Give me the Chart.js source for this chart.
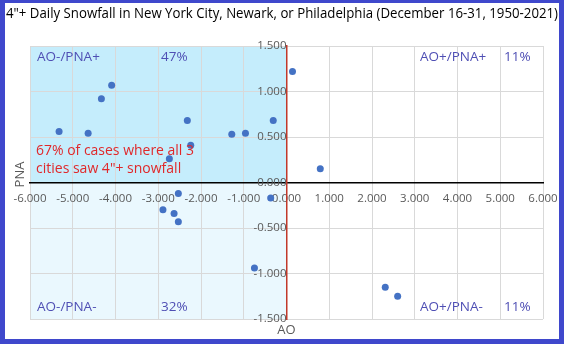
<!DOCTYPE html>
<html>
<head>
<meta charset="utf-8">
<script src="https://cdn.jsdelivr.net/npm/chart.js@4"></script>
<style>
  html, body { margin: 0; padding: 0; background: #fff; }
  #frame { width: 564px; height: 344px; box-sizing: border-box; border: 5px solid #3f48cc; border-top-width: 3px; background: #fff; }
  #chart { display: block; }
</style>
</head>
<body>
<div id="frame"><canvas id="chart" width="554" height="336"></canvas></div>
<script>
// AO / PNA index for each snow event
const aoValues  = [-5.32, -4.64, -4.33, -4.09, -2.74, -2.32, -2.24, -1.28, -0.96, -0.31, 0.14, 0.79,
                   -2.53, -2.89, -2.63, -2.53, -0.37, -0.75, 2.31, 2.60];
const pnaValues = [0.56, 0.54, 0.92, 1.07, 0.26, 0.68, 0.41, 0.53, 0.54, 0.68, 1.22, 0.15,
                   -0.12, -0.30, -0.34, -0.43, -0.17, -0.94, -1.15, -1.25];
const xTicks = [-6, -5, -4, -3, -2, -1, 0, 1, 2, 3, 4, 5, 6];
const yTicks = [-1.5, -1.0, -0.5, 0, 0.5, 1.0, 1.5];
const quadrantLabels = [
  { text: 'AO-/PNA+', pct: '47%', q: 'tl' },
  { text: 'AO+/PNA+', pct: '11%', q: 'tr' },
  { text: 'AO-/PNA-', pct: '32%', q: 'bl' },
  { text: 'AO+/PNA-', pct: '11%', q: 'br' }
];
const noteLines = ['67% of cases where all 3', 'cities saw 4"+ snowfall'];
const titleText = '4"+ Daily Snowfall in New York City, Newark, or Philadelphia (December 16-31, 1950-2021)';

const FONT = '"Open Sans", sans-serif';

const points = aoValues.map((v, i) => ({ x: v, y: pnaValues[i] }));

const decor = {
  id: 'decor',
  beforeDraw(chart) {
    const { ctx, chartArea: a, scales: { x, y } } = chart;
    const x0 = x.getPixelForValue(0), y0 = y.getPixelForValue(0);
    ctx.save();
    ctx.fillStyle = '#c5edfc';
    ctx.fillRect(a.left, a.top, x0 - a.left, y0 - a.top);
    ctx.fillStyle = '#eaf8fe';
    ctx.fillRect(a.left, y0, x0 - a.left, a.bottom - y0);
    ctx.restore();
  },
  afterDraw(chart) {
    const { ctx, chartArea: a, scales: { x, y } } = chart;
    ctx.save();
    // title
    ctx.fillStyle = '#000';
    ctx.font = '15px ' + FONT;
    ctx.textBaseline = 'middle';
    ctx.textAlign = 'left';
    ctx.fillText(titleText, 1, 11, 552);
    // quadrant labels
    ctx.font = '13.5px ' + FONT;
    ctx.fillStyle = '#4f4fb4';
    quadrantLabels.forEach(l => {
      const left = l.q[1] === 'l';
      const top = l.q[0] === 't';
      const ty = top ? a.top + 11 : a.bottom - 12;
      const tx = left ? a.left + 7 : a.left + 390;
      const px = left ? a.left + 131 : a.left + 474;
      ctx.fillText(l.text, tx, ty);
      ctx.fillText(l.pct, px, ty);
    });
    // note
    ctx.fillStyle = '#e0282a';
    ctx.font = '14px ' + FONT;
    noteLines.forEach((t, i) => ctx.fillText(t, a.left + 6, a.top + 105 + i * 18, 158));
    // axis titles
    ctx.fillStyle = '#595959';
    ctx.font = '13px ' + FONT;
    ctx.textAlign = 'center';
    ctx.fillText('AO', x.getPixelForValue(0), a.bottom + 11);
    ctx.translate(15, y.getPixelForValue(0) - 8);
    ctx.rotate(-Math.PI / 2);
    ctx.fillText('PNA', 0, 0);
    ctx.restore();
  }
};

new Chart(document.getElementById('chart'), {
  type: 'scatter',
  data: {
    datasets: [{
      data: points,
      backgroundColor: '#4472c4',
      borderWidth: 0,
      pointRadius: 3.5,
      pointHoverRadius: 3.5
    }]
  },
  options: {
    responsive: false,
    animation: false,
    layout: { padding: { left: 25, right: 16, top: 43, bottom: 20 } },
    plugins: { legend: { display: false }, tooltip: { enabled: false }, title: { display: false } },
    scales: {
      x: {
        type: 'linear',
        position: { y: 0 },
        min: -6, max: 6,
        afterBuildTicks: s => { s.ticks = xTicks.map(v => ({ value: v })); },
        afterFit: s => { s.paddingLeft = 0; s.paddingRight = 0; },
        grid: { color: '#d9d9d9', drawTicks: false },
        border: { color: '#000', width: 1.5 },
        ticks: {
          color: '#595959', padding: 9, maxRotation: 0, autoSkip: false,
          font: { family: FONT, size: 11.5 },
          callback: v => v.toFixed(3)
        }
      },
      y: {
        type: 'linear',
        position: { x: 0 },
        min: -1.5, max: 1.5,
        afterBuildTicks: s => { s.ticks = yTicks.map(v => ({ value: v })); },
        afterFit: s => { s.paddingTop = 0; s.paddingBottom = 0; },
        grid: { color: '#d9d9d9', drawTicks: false },
        border: { color: '#c0392b', width: 1.5 },
        ticks: {
          color: '#595959', padding: 10, autoSkip: false,
          font: { family: FONT, size: 11.5 },
          callback: v => v.toFixed(3)
        }
      }
    }
  },
  plugins: [decor]
});
</script>
</body>
</html>
